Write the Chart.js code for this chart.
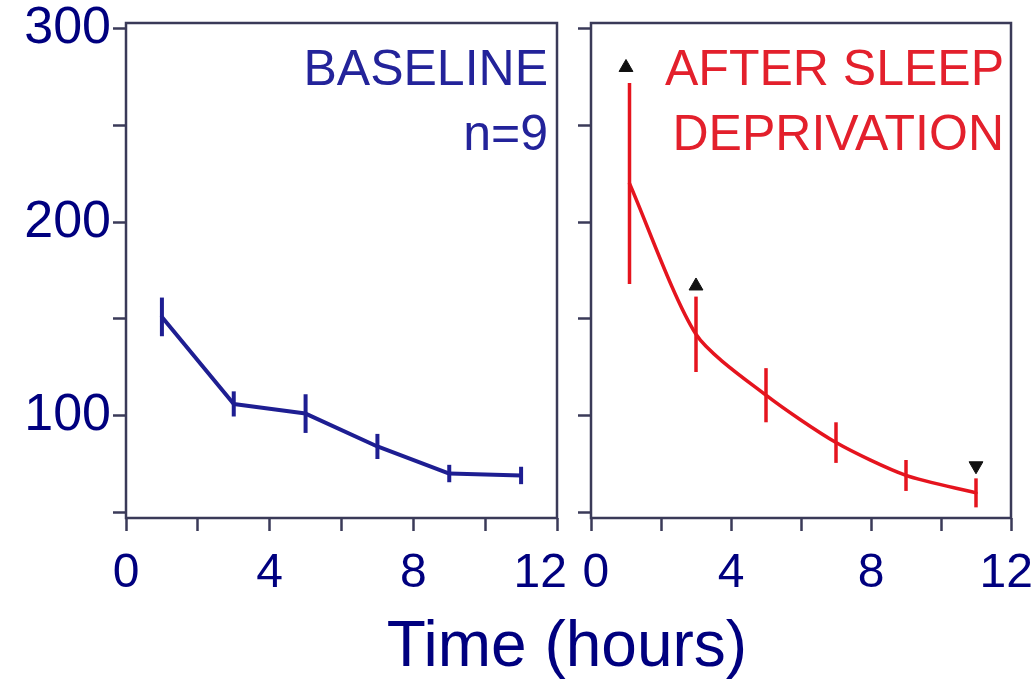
<!DOCTYPE html>
<html>
<head>
<meta charset="utf-8">
<script src="https://cdn.jsdelivr.net/npm/chart.js@4.4.1/dist/chart.umd.min.js"></script>
<style>
  body { margin: 0; background: #fff; width: 1032px; height: 679px; position: relative; overflow: hidden; font-family: "Liberation Sans", Arial, sans-serif; }
  canvas { position: absolute; top: 0; }
  .note { position: absolute; top: 36px; font-size: 50px; line-height: 65px; text-align: right; white-space: nowrap; }
  #xtitle { position: absolute; left: 0; width: 1134px; top: 608px; font-size: 64px; line-height: 72px; text-align: center; color: #00007f; }
</style>
</head>
<body>
<canvas id="left" width="580" height="679" style="left:0"></canvas>
<canvas id="right" width="457" height="679" style="left:575px"></canvas>
<div class="note" style="right:484px;color:#23239a">BASELINE<br>n=9</div>
<div class="note" style="right:28px;color:#e3202c">AFTER SLEEP<br>DEPRIVATION</div>
<div id="xtitle">Time (hours)</div>
<script>
// tick positions
const xTicks = [0, 2, 4, 6, 8, 10, 12];
const yTicks = [50, 100, 150, 200, 250, 300];

// baseline panel
const baselineHours = [1, 3, 5, 7, 9, 11];
const baselineMean = [151, 106, 101, 84, 70, 69];
const baselineErr = [10, 6.5, 10, 6.5, 4.5, 4.5];

// sleep deprivation panel
const sleepDepHours = [1.1, 3, 5, 7, 9, 11];
const sleepDepMean = [220, 142, 110.5, 86, 69, 60];
const sleepDepErr = [52, 19.5, 14, 10.5, 8, 7.5];

// significance markers (black triangles)
const markerHours = [1, 3, 11];
const markerValues = [280, 167, 74];
const markerRotation = [0, 0, 180];

const NAVY = "#00007f";
const FRAME = "#3a3a58";

const frameBox = {
  id: "frameBox",
  beforeDatasetsDraw(chart) {
    const { ctx, chartArea: a } = chart;
    ctx.save();
    ctx.strokeStyle = FRAME;
    ctx.lineWidth = 2.5;
    ctx.strokeRect(a.left, a.top, a.right - a.left, a.bottom - a.top);
    ctx.restore();
  }
};

const errorBars = {
  id: "errorBars",
  afterDatasetsDraw(chart, args, opts) {
    const { ctx, scales: { x, y } } = chart;
    ctx.save();
    ctx.strokeStyle = opts.color;
    ctx.lineWidth = opts.width;
    opts.hours.forEach((t, i) => {
      const px = x.getPixelForValue(t);
      ctx.beginPath();
      ctx.moveTo(px, y.getPixelForValue(opts.means[i] - opts.errs[i]));
      ctx.lineTo(px, y.getPixelForValue(opts.means[i] + opts.errs[i]));
      ctx.stroke();
    });
    ctx.restore();
  }
};

function makePanel(id, cfg) {
  return new Chart(document.getElementById(id), {
    type: "line",
    data: { datasets: cfg.datasets },
    options: {
      responsive: false,
      animation: false,
      events: [],
      layout: { padding: cfg.padding },
      plugins: {
        legend: { display: false },
        tooltip: { enabled: false },
        errorBars: cfg.errorBars
      },
      scales: {
        x: {
          type: "linear", min: 0, max: 12,
          afterBuildTicks: s => { s.ticks = xTicks.map(v => ({ value: v })); },
          afterFit: s => { s.height = 161; s.paddingLeft = 0; s.paddingRight = 0; },
          grid: { drawOnChartArea: false, drawTicks: true, tickLength: 13, tickColor: FRAME, tickWidth: 2.5 },
          border: { display: false },
          ticks: {
            autoSkip: false, maxRotation: 0, padding: 14, color: NAVY,
            font: { family: "Liberation Sans", size: 48 },
            // the two panels crowd "12" and "0" together, so nudge them apart a little
            callback: v => (v % 4 !== 0 ? "" : cfg.xLabel(v))
          }
        },
        y: {
          min: 47, max: 303,
          afterBuildTicks: s => { s.ticks = yTicks.map(v => ({ value: v })); },
          afterFit: s => { s.width = cfg.yWidth; s.paddingTop = 0; s.paddingBottom = 0; },
          grid: { drawOnChartArea: false, drawTicks: true, tickLength: 13, tickColor: FRAME, tickWidth: 2.5 },
          border: { display: false },
          ticks: {
            autoSkip: false, padding: 2, color: NAVY,
            font: { family: "Liberation Sans", size: 52 },
            callback: v => (cfg.yLabels && v % 100 === 0 ? String(v) : "")
          }
        }
      }
    },
    plugins: [frameBox, errorBars]
  });
}

makePanel("left", {
  padding: { top: 23, right: 23, left: 0, bottom: 0 },
  yWidth: 126,
  yLabels: true,
  xLabel: v => (v === 12 ? "12\u2002\u2009" : String(v)),
  errorBars: { hours: baselineHours, means: baselineMean, errs: baselineErr, color: "#1e1e92", width: 4 },
  datasets: [{
    data: baselineHours.map((t, i) => ({ x: t, y: baselineMean[i] })),
    borderColor: "#1e1e92", borderWidth: 4, pointRadius: 0, tension: 0,
    borderJoinStyle: "round", borderCapStyle: "round"
  }]
});

makePanel("right", {
  padding: { top: 23, right: 21, left: 0, bottom: 0 },
  yWidth: 16,
  yLabels: false,
  xLabel: v => (v === 0 ? "\u20090" : v === 12 ? "12\u2009" : String(v)),
  errorBars: { hours: sleepDepHours, means: sleepDepMean, errs: sleepDepErr, color: "#e5141e", width: 3.5 },
  datasets: [{
    data: sleepDepHours.map((t, i) => ({ x: t, y: sleepDepMean[i] })),
    borderColor: "#e5141e", borderWidth: 3.5, pointRadius: 0, tension: 0.25,
    borderJoinStyle: "round", borderCapStyle: "round"
  }, {
    data: markerHours.map((t, i) => ({ x: t, y: markerValues[i] })),
    showLine: false, pointStyle: "triangle", pointRadius: 8,
    pointRotation: markerRotation,
    pointBackgroundColor: "#111", pointBorderColor: "#111", pointBorderWidth: 1
  }]
});
</script>
</body>
</html>
